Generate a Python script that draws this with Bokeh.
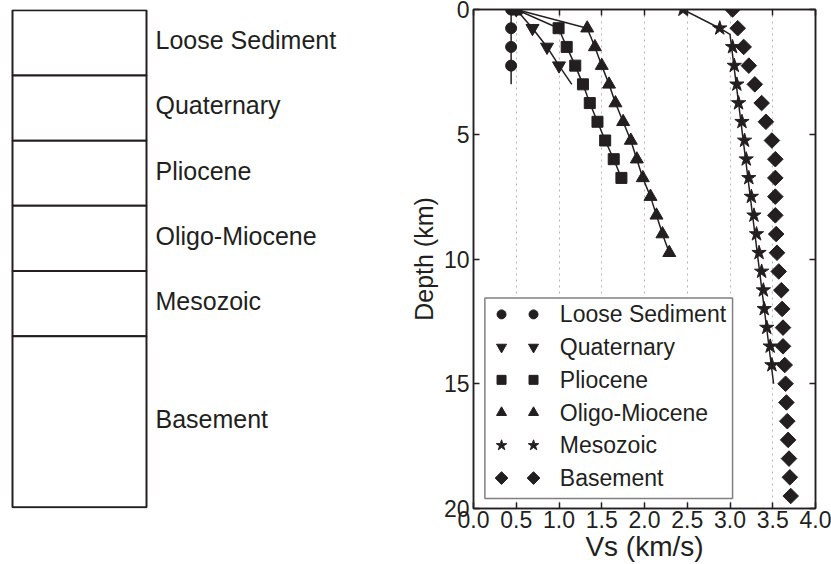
from bokeh.plotting import figure
from bokeh.layouts import row
from bokeh.models import Range1d, FixedTicker, LinearAxis, PrintfTickFormatter
from bokeh.embed import file_html
from bokeh.resources import INLINE
from bokeh.core.properties import value
import numpy as np

INK = "#231f20"
FONT = "Liberation Sans"

# ---------------- data ----------------
layers = ["Loose Sediment", "Quaternary", "Pliocene", "Oligo-Miocene", "Mesozoic", "Basement"]
column_thickness = [1, 1, 1, 1, 1, 2.62]   # schematic, not to scale

x_ticks = [0.0, 0.5, 1.0, 1.5, 2.0, 2.5, 3.0, 3.5, 4.0]
y_ticks = [0, 5, 10, 15, 20]

loose_depth = [0, 0.75, 1.5, 2.25]
loose_vs = [0.44, 0.44, 0.44, 0.44]
loose_line_depth = [0, 3.0]
loose_line_vs = [0.44, 0.44]

quat_depth = [0, 0.75, 1.5, 2.25]
quat_vs = [0.50, 0.69, 0.86, 1.00]
quat_line_depth = [0, 0.75, 1.5, 2.25, 3.0]
quat_line_vs = [0.50, 0.69, 0.86, 1.00, 1.15]

plio_depth = [0, 0.75, 1.5, 2.25, 3.0, 3.75, 4.5, 5.25, 6.0, 6.75]
plio_vs = [0.50, 0.995, 1.09, 1.19, 1.28, 1.36, 1.45, 1.54, 1.64, 1.73]

oligo_depth = [0, 0.75, 1.5, 2.25, 3.0, 3.75, 4.5, 5.25, 6.0, 6.75, 7.5, 8.25, 9.0, 9.75]
oligo_vs = [0.50, 1.33, 1.42, 1.50, 1.585, 1.66, 1.75, 1.84, 1.91, 1.98, 2.07, 2.14, 2.21, 2.29]

meso_depth = [0, 0.75, 1.5, 2.25, 3.0, 3.75, 4.5, 5.25, 6.0, 6.75, 7.5, 8.25, 9.0, 9.75,
              10.5, 11.25, 12.0, 12.75, 13.5, 14.25]
meso_vs = [2.45, 2.88, 3.03, 3.05, 3.08, 3.10, 3.14, 3.17, 3.19, 3.22, 3.25, 3.28, 3.31, 3.34,
           3.37, 3.39, 3.40, 3.43, 3.47, 3.49]
meso_line_depth = [0, 0.75, 1.0, 15.0]
meso_line_vs = [2.45, 2.88, 3.0, 3.51]

base_depth = [0, 0.75, 1.5, 2.25, 3.0, 3.75, 4.5, 5.25, 6.0, 6.75, 7.5, 8.25, 9.0, 9.75,
              10.5, 11.25, 12.0, 12.75, 13.5, 14.25, 15.0, 15.75, 16.5, 17.25, 18.0, 18.75, 19.5]
base_vs = [3.03, 3.09, 3.16, 3.22, 3.29, 3.37, 3.42, 3.49, 3.53, 3.53, 3.53, 3.53, 3.54, 3.55,
           3.57, 3.60, 3.61, 3.62, 3.62, 3.64, 3.65, 3.66, 3.67, 3.68, 3.69, 3.70, 3.71]

H = 564
BORDER_TOP, BORDER_BOTTOM = 9, 54

# ---------------- left: stratigraphic column ----------------
frame_h = H - BORDER_TOP - BORDER_BOTTOM
total_units = float(np.sum(column_thickness))
unit_px = (frame_h - 2.0) / total_units
pad = 0.7 / unit_px
lf = figure(width=400, height=H, x_range=Range1d(0, 400),
            y_range=Range1d(total_units + (frame_h / unit_px - total_units - pad), -pad),
            output_backend="svg", toolbar_location=None,
            min_border_left=0, min_border_right=0,
            min_border_top=BORDER_TOP, min_border_bottom=BORDER_BOTTOM,
            x_axis_type=None, y_axis_type=None)
lf.grid.visible = False
lf.outline_line_color = None
edges = np.concatenate([[0], np.cumsum(column_thickness)])
tops = edges[:-1]
bots = edges[1:]
lf.quad(left=12, right=146, top=tops, bottom=bots, fill_color="white",
        line_color=INK, line_width=2)
centers = (tops + bots) / 2 - 0.04
lf.text(x=[155] * len(layers), y=centers, text=layers, text_font=value(FONT),
        text_font_size="25px", text_baseline="middle", text_align="left", text_color=INK)

# ---------------- right: Vs profile ----------------
p = figure(width=431, height=H, x_range=Range1d(0, 4), y_range=Range1d(20, 0),
           output_backend="svg", toolbar_location=None,
           min_border_left=73, min_border_right=16,
           min_border_top=BORDER_TOP, min_border_bottom=BORDER_BOTTOM)
p.outline_line_color = INK
p.outline_line_width = 1.5

for ax in (p.xaxis[0], p.yaxis[0]):
    ax.major_tick_in = 6
    ax.major_tick_out = 0
    ax.minor_tick_line_color = None
    ax.axis_line_color = INK
    ax.axis_line_width = 1.5
    ax.major_tick_line_color = INK
    ax.major_tick_line_width = 1.5
    ax.major_label_text_font = FONT
    ax.major_label_text_font_size = "23px"
    ax.major_label_text_color = INK
    ax.axis_label_text_font = FONT
    ax.axis_label_text_font_style = "normal"
    ax.axis_label_text_color = INK

p.xaxis.ticker = FixedTicker(ticks=x_ticks, minor_ticks=[])
p.xaxis.formatter = PrintfTickFormatter(format="%.1f")
p.yaxis.ticker = FixedTicker(ticks=y_ticks, minor_ticks=[])
p.xaxis.axis_label = "Vs (km/s)"
p.yaxis.axis_label = "Depth (km)"
p.xaxis.axis_label_text_font_size = "28px"
p.yaxis.axis_label_text_font_size = "25px"
p.xaxis.major_label_standoff = 2
p.yaxis.major_label_standoff = 4
p.xaxis.axis_label_standoff = 0
p.yaxis.axis_label_standoff = 3

for loc, ticks in (("above", x_ticks), ("right", y_ticks)):
    ax = LinearAxis(ticker=FixedTicker(ticks=ticks, minor_ticks=[]),
                    major_tick_in=6, major_tick_out=0, major_tick_line_color=INK,
                    major_tick_line_width=1.5, axis_line_color=INK, axis_line_width=1.5,
                    minor_tick_line_color=None,
                    major_label_overrides={t: "" for t in ticks},
                    major_label_standoff=0)
    p.add_layout(ax, loc)

p.xgrid.ticker = FixedTicker(ticks=x_ticks, minor_ticks=[])
p.xgrid.grid_line_color = "#b5b5b5"
p.xgrid.grid_line_dash = "dotted"
p.xgrid.grid_line_width = 1
p.ygrid.visible = False

LW = 1.5
p.line(loose_line_vs, loose_line_depth, line_color=INK, line_width=LW)
p.line(quat_line_vs, quat_line_depth, line_color=INK, line_width=LW)
p.line(plio_vs, plio_depth, line_color=INK, line_width=LW)
p.line(oligo_vs, oligo_depth, line_color=INK, line_width=LW)
p.line(meso_line_vs, meso_line_depth, line_color=INK, line_width=LW)

series = [
    (loose_vs, loose_depth, "circle", 11, 0.0),
    (quat_vs, quat_depth, "inverted_triangle", 13, 0.0),
    (plio_vs, plio_depth, "square", 11, 0.0),
    (oligo_vs, oligo_depth, "triangle", 13, 0.0),
    (meso_vs, meso_depth, "star", 15, 0.0),
    (base_vs, base_depth, "square", 11, np.pi / 4),
]
for xs, ys, mk, sz, ang in series:
    p.scatter(xs, ys, marker=mk, size=sz, angle=ang, fill_color=INK, line_color=INK)

# legend (drawn manually to show two markers per entry)
LEG_L, LEG_R, LEG_T, LEG_B = 0.133, 3.03, 11.56, 19.6
p.quad(left=[LEG_L], right=[LEG_R], top=[LEG_T], bottom=[LEG_B], fill_color="white",
       line_color="#808080", line_width=1.5)
leg_y = LEG_T + 0.66 + 1.312 * np.arange(len(layers))
leg_sizes = [9, 10, 9, 10, 11, 9]
for i, (xs, ys, mk, sz, ang) in enumerate(series):
    p.scatter([0.328, 0.702], [leg_y[i]] * 2, marker=mk, size=leg_sizes[i], angle=ang,
              fill_color=INK, line_color=INK)
p.text(x=[1.01] * len(layers), y=leg_y, text=layers, text_font=value(FONT),
       text_font_size="23px", text_baseline="middle", text_align="left", text_color=INK)

layout = row(lf, p)
open("out.html", "w").write(file_html(layout, INLINE))
